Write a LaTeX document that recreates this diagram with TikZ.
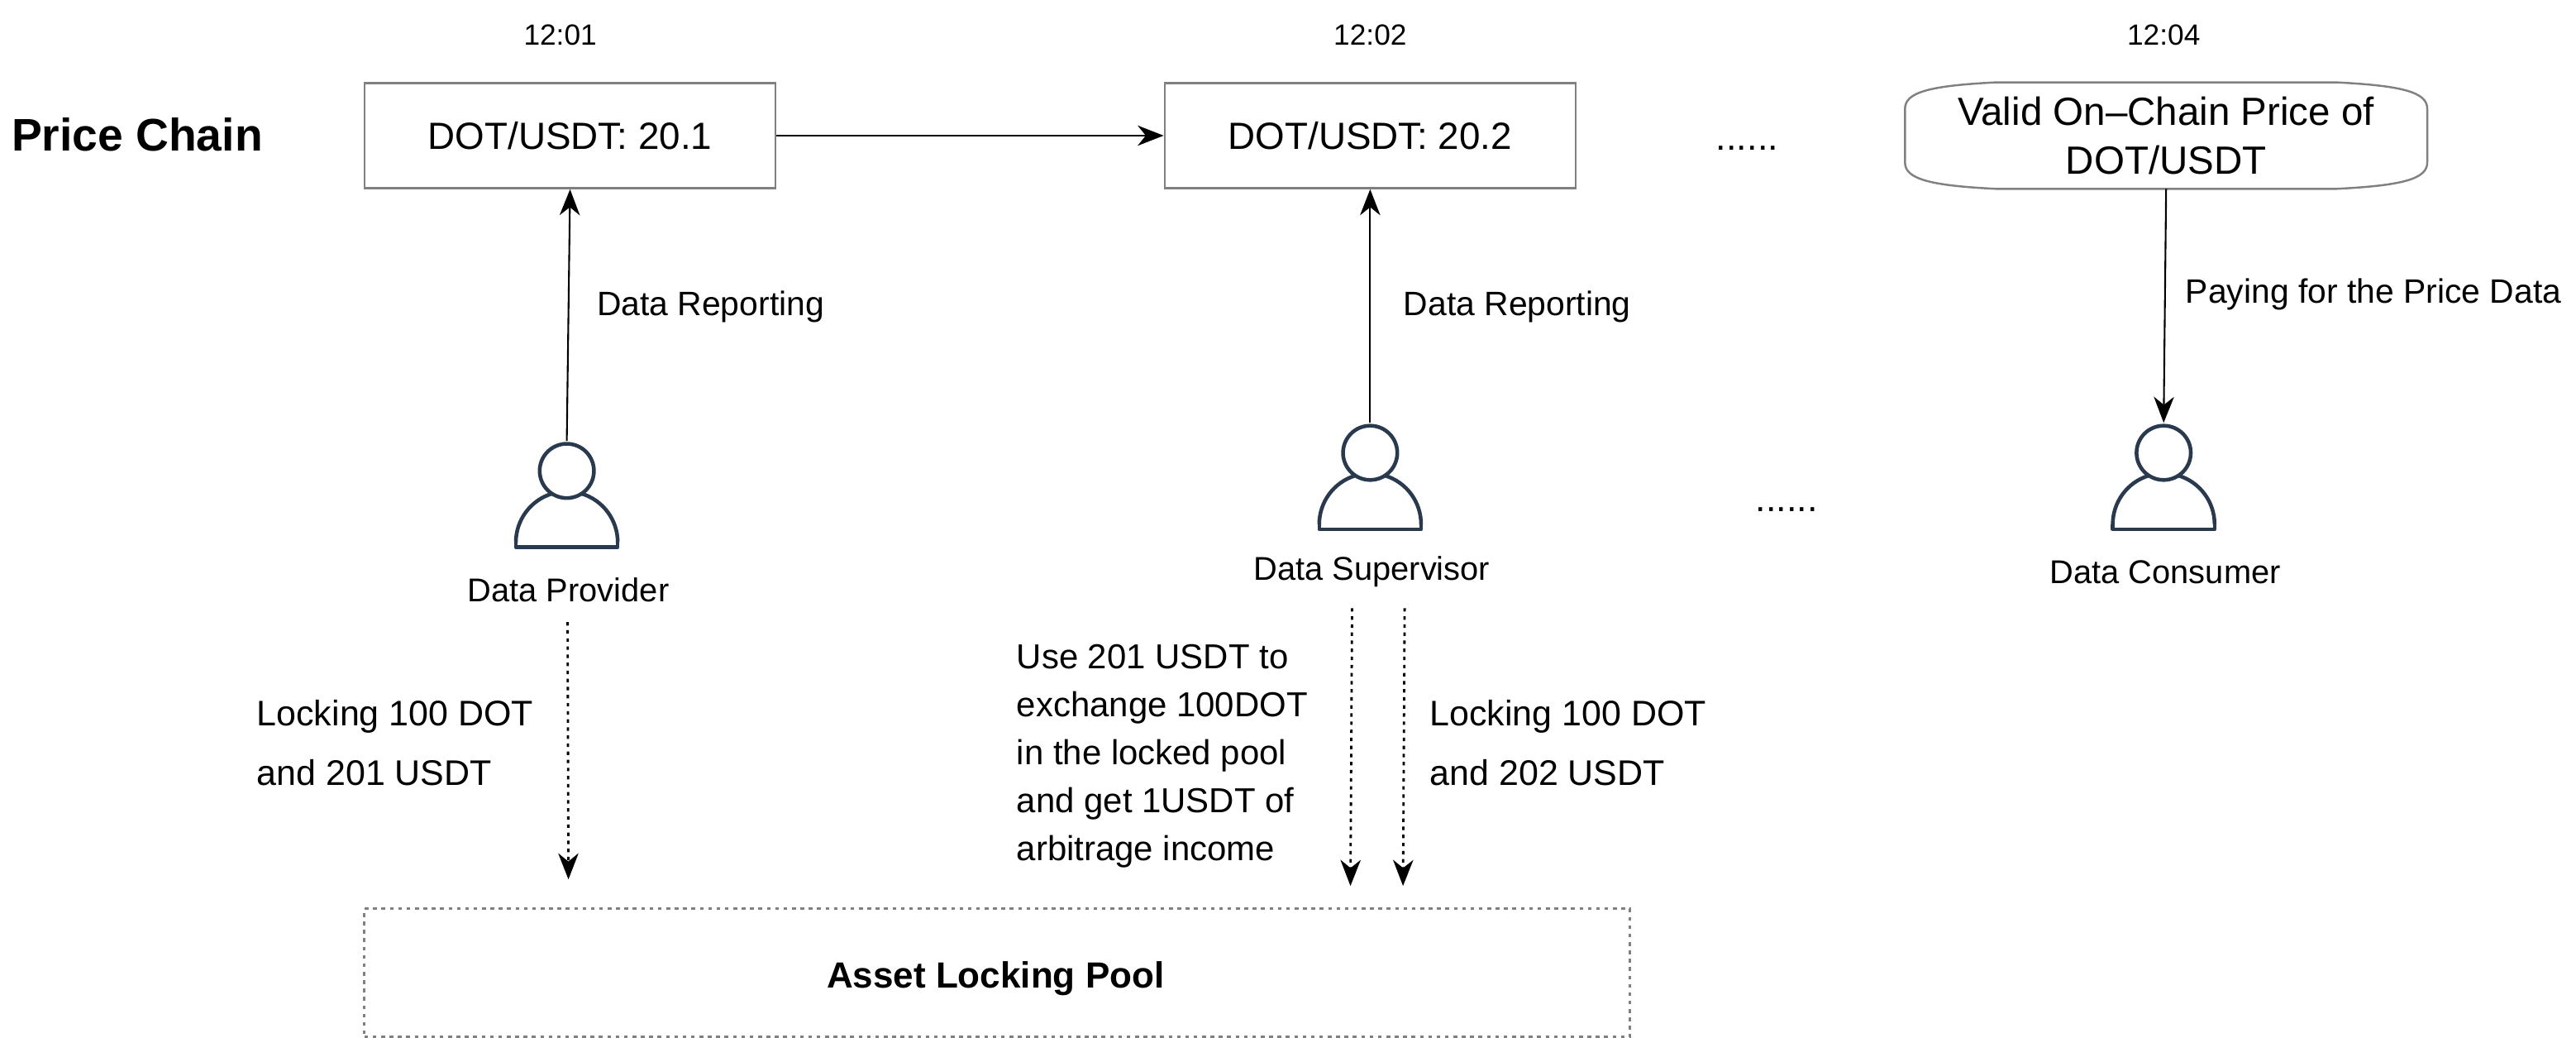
\documentclass[tikz,border=0pt]{standalone}
\usepackage{fontspec}
\setmainfont{Liberation Sans}
\usepackage{xcolor}
\usetikzlibrary{arrows.meta}
\usetikzlibrary{positioning}
\usetikzlibrary{calc}

\definecolor{personcolor}{HTML}{2A3A4E}
\definecolor{linegray}{HTML}{808080}

\tikzset{
  plainbox/.style={draw=linegray, line width=0.7pt, minimum width=5cm, minimum height=1.28cm, inner sep=0pt, font=\fontsize{13.1}{15}\selectfont},
  smalltext/.style={inner sep=0pt, font=\fontsize{11.7}{14}\selectfont},
  roletext/.style={inner sep=0pt, font=\fontsize{11.4}{14}\selectfont},
  locktext/.style={inner sep=0pt, anchor=west, align=left, font=\fontsize{12.3}{20.5}\selectfont},
  timetext/.style={inner sep=0pt, font=\fontsize{10.1}{12}\selectfont},
  dotstext/.style={inner sep=0pt, font=\fontsize{12.9}{14}\selectfont},
  flowarrow/.style={line width=0.6pt, -{Stealth[length=9pt,width=7pt,inset=2.8pt]}},
  lockarrow/.style={flowarrow, line width=0.8pt, dash pattern=on 1.2pt off 1.6pt},
  personline/.style={draw=personcolor, line width=1.3pt},
  personhead/.style={personline, circle, inner sep=0pt, minimum size=0.66cm, outer sep=1pt}
}

\begin{document}
\begin{tikzpicture}[x=0.01cm, y=0.01cm]
  \useasboundingbox (0,-1263) rectangle (3136,0);

  %persons
  \foreach \name/\cx/\cy/\role in {provider/690/-573/Data Provider, supervisor/1668/-551/Data Supervisor, consumer/2634/-551/Data Consumer} {
     \draw[personline] (\cx-62,\cy-87) arc[start angle=180, end angle=107, radius=62];
     \draw[personline] (\cx+62,\cy-87) arc[start angle=0, end angle=73, radius=62];
     \draw[personline, line join=round] (\cx-62,\cy-87) -- (\cx-62,\cy-93) -- (\cx+62,\cy-93) -- (\cx+62,\cy-87);
     \node[personhead] (\name) at (\cx,\cy) {};
     \node[roletext] (\name label) at (\cx+2,\cy-145) {\role};
  }

  %price chain
  \node[inner sep=0pt, font=\bfseries\fontsize{15.8}{18}\selectfont] (title) at (167,-164) {Price Chain};
  \node[plainbox] (boxa) at (694,-165) {DOT/USDT: 20.1};
  \node[plainbox] (boxb) at (1668,-165) {DOT/USDT: 20.2};
  \node[inner sep=0pt, align=center, minimum width=6.34cm, minimum height=1.28cm, font=\fontsize{13.6}{17}\selectfont] (valid) at (2637,-165) {Valid On--Chain Price of\\DOT/USDT};
  \draw[linegray, line width=0.7pt]
     ($(valid.north west)+(110,0)$) -- ($(valid.north east)+(-110,0)$)
     .. controls ($(valid.north east)+(-30,-4)$) and ($(valid.north east)+(0,-12)$) .. ($(valid.north east)+(0,-32)$)
     -- ($(valid.south east)+(0,32)$)
     .. controls ($(valid.south east)+(0,12)$) and ($(valid.south east)+(-30,4)$) .. ($(valid.south east)+(-110,0)$)
     -- ($(valid.south west)+(110,0)$)
     .. controls ($(valid.south west)+(30,4)$) and ($(valid.south west)+(0,12)$) .. ($(valid.south west)+(0,32)$)
     -- ($(valid.north west)+(0,-32)$)
     .. controls ($(valid.north west)+(0,-12)$) and ($(valid.north west)+(30,-4)$) .. cycle;

  %times
  \node[timetext] (timea) at (682,-43) {12:01};
  \node[timetext] (timeb) at (1668,-43) {12:02};
  \node[timetext] (timec) at (2634,-43) {12:04};

  \node[dotstext] (dotsa) at (2127,-180) {......};
  \node[dotstext] (dotsb) at (2175,-620) {......};

  %arrows
  \draw[flowarrow] (boxa) -- (boxb);
  \draw[flowarrow] (provider.north) -- (boxa.south);
  \draw[flowarrow] (supervisor.north) -- (boxb.south);
  \draw[flowarrow] (valid.south) -- (consumer.north);

  \node[smalltext, anchor=west] (reporta) at (726,-373) {Data Reporting};
  \node[smalltext, anchor=west] (reportb) at (1708,-373) {Data Reporting};
  \node[smalltext, anchor=west] (paying) at (2660,-358) {Paying for the Price Data};

  %pool
  \node[draw=linegray, line width=0.9pt, dash pattern=on 1.3pt off 1.6pt, minimum width=15.4cm, minimum height=1.56cm, inner sep=0pt] (pool) at (1214,-1184) {};
  \node[inner sep=0pt, font=\bfseries\fontsize{12.6}{15}\selectfont] (pooltext) at (1212,-1191) {Asset Locking Pool};

  %locking
  \node[locktext] (locka) at (312,-904) {Locking 100 DOT\\and 201 USDT};
  \node[locktext] (lockb) at (1740,-904) {Locking 100 DOT\\and 202 USDT};
  \node[locktext, font=\fontsize{12.0}{16.6}\selectfont] (swap) at (1237,-920) {Use 201 USDT to\\exchange 100DOT\\in the locked pool\\and get 1USDT of\\arbitrage income};

  \coordinate (starta) at (691,-757);
  \coordinate (enda) at (692,-1070);
  \coordinate (startb) at (1646,-740);
  \coordinate (endb) at (1644,-1078);
  \coordinate (startc) at (1710,-740);
  \coordinate (endc) at (1708,-1078);
  \draw[lockarrow] (starta) -- (enda);
  \draw[lockarrow] (startb) -- (endb);
  \draw[lockarrow] (startc) -- (endc);
\end{tikzpicture}
\end{document}
